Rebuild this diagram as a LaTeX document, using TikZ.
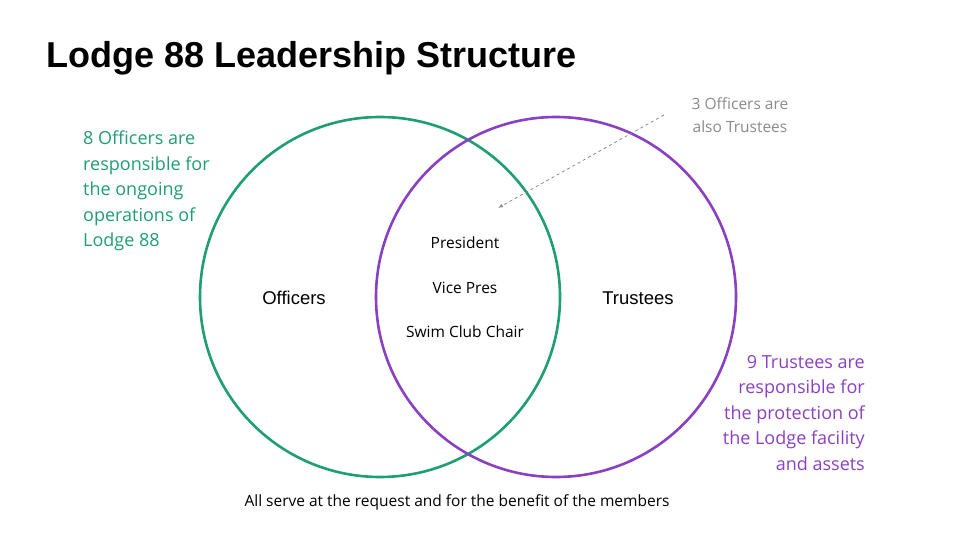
\documentclass[tikz,border=0pt]{standalone}
\usepackage{fontspec}
\usetikzlibrary{arrows.meta}
\setmainfont{Open Sans}
\newfontfamily\arial{Liberation Sans}
\definecolor{og}{HTML}{1E9E73}
\definecolor{tp}{HTML}{8B3FC2}
\definecolor{gr}{HTML}{8A8A8A}
\begin{document}
\begin{tikzpicture}[x=1pt,y=-1pt,
  circ/.style={line width=2.6pt},
  txt/.style={inner sep=0pt,font=\fontsize{15.5}{20}\selectfont},
  side/.style={inner sep=0pt,font=\fontsize{18}{25.5}\selectfont}]
\useasboundingbox (0,0) rectangle (960,540);
\node[anchor=west,inner sep=0pt,font=\arial\bfseries\fontsize{36}{40}\selectfont] (title) at (46,58) {Lodge 88 Leadership Structure};
\node[circ,draw=og,circle,minimum size=360pt] (off) at (380,297) {};
\node[circ,draw=tp,circle,minimum size=360pt] (tru) at (556,297) {};
\node[txt,font=\arial\fontsize{18.5}{20}\selectfont] (ol) at (294,298) {Officers};
\node[txt,font=\arial\fontsize{18.5}{20}\selectfont] (tl) at (638,298) {Trustees};
\node[txt] (p) at (465,243) {President};
\node[txt] (v) at (465,288) {Vice Pres};
\node[txt] (s) at (465,332) {Swim Club Chair};
\node[side,text=og,anchor=north west,align=left] (og) at (83,131) {8 Officers are\\responsible for\\the ongoing\\operations of\\Lodge 88};
\node[side,text=tp,anchor=north east,align=right] (tp) at (865,355) {9 Trustees are\\responsible for\\the protection of\\the Lodge facility\\and assets};
\node[txt,text=gr,align=center,font=\fontsize{15.5}{23}\selectfont] (note) at (740,115) {3 Officers are\\also Trustees};
\coordinate (tip) at (498,208);
\coordinate (st) at (664,115);
\draw[gr,dashed,line width=0.8pt,-{Latex[length=5pt]}] (st) -- (tip);
\node[txt] (foot) at (457,502) {All serve at the request and for the benefit of the members};
\end{tikzpicture}
\end{document}
